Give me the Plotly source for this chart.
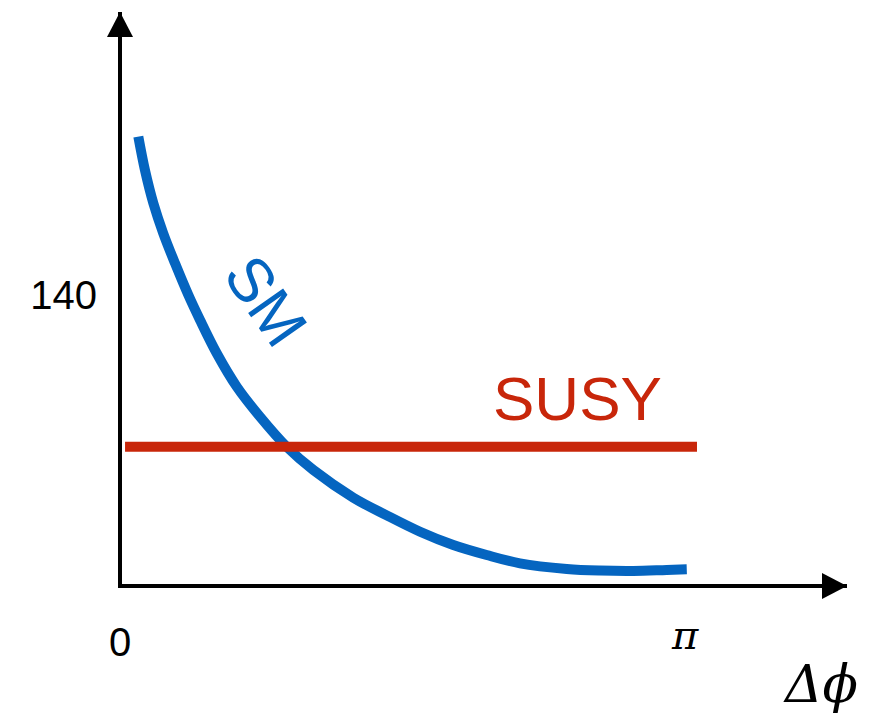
import math
import plotly.graph_objects as go

# ---- data ----
sm_x = [0.091, 0.128, 0.175, 0.230, 0.296, 0.370, 0.435, 0.528, 0.640, 0.769,
        0.918, 1.067, 1.290, 1.476, 1.662, 1.847, 2.033, 2.219, 2.480, 2.665,
        2.851, 3.037, 3.149]
sm_y = [216.2, 200.1, 184.1, 169.7, 155.2, 140.0, 128.0, 112.0, 95.9, 81.5,
        67.0, 55.8, 42.5, 34.0, 26.1, 19.7, 14.9, 10.9, 8.2, 7.4,
        7.2, 7.7, 8.0]
susy_x = [0.017, 3.206]
susy_y = [67.0, 67.0]

x_tickvals = [0, math.pi]
x_ticktext = ["0", "<i>π</i>"]
y_tickvals = [140]
y_ticktext = ["140"]

BLUE = "#0565C0"
RED = "#C8260A"

fig = go.Figure()
fig.add_trace(go.Scatter(x=sm_x, y=sm_y, mode="lines",
                         line=dict(color=BLUE, width=10, shape="spline", smoothing=1.0),
                         showlegend=False, hoverinfo="skip"))
fig.add_trace(go.Scatter(x=susy_x, y=susy_y, mode="lines", line=dict(color=RED, width=10),
                         showlegend=False, hoverinfo="skip"))

# x tick labels (different fonts per label, so drawn as annotations on the x scale)
tick_styles = [
    dict(font=dict(size=40, family="Liberation Sans", color="black"), yshift=-58, xshift=-2),
    dict(font=dict(size=40, family="DejaVu Serif", color="black"), yshift=-51, xshift=0),
]
tick_annotations = [
    dict(x=v, xref="x", y=0, yref="paper", text=t, showarrow=False,
         xanchor="center", yanchor="middle", **s)
    for v, t, s in zip(x_tickvals, x_ticktext, tick_styles)
]

fig.update_layout(
    width=883, height=708,
    margin=dict(l=114, r=44, t=4, b=132),
    paper_bgcolor="white", plot_bgcolor="white",
    font=dict(family="Liberation Sans, Arial, sans-serif", color="black"),
    xaxis=dict(range=[0, 4.0424], showline=True, linecolor="black", linewidth=4,
               showgrid=False, zeroline=False, ticks="", showticklabels=False),
    yaxis=dict(range=[0.96, 276.2], showline=True, linecolor="black", linewidth=4,
               showgrid=False, zeroline=False, ticks="", tickvals=y_tickvals, ticktext=y_ticktext,
               tickfont=dict(size=40, family="Liberation Sans"), ticklabelstandoff=13),
    shapes=[
        dict(type="path", xref="paper", yref="paper", xsizemode="pixel", ysizemode="pixel",
             xanchor=0, yanchor=1, path="M-15,-25 L11,-25 L-2,0 Z",
             fillcolor="black", line=dict(width=0), layer="above"),
        dict(type="path", xref="paper", yref="paper", xsizemode="pixel", ysizemode="pixel",
             xanchor=1, yanchor=0, path="M-25,-15 L-25,11 L0,-2 Z",
             fillcolor="black", line=dict(width=0), layer="above"),
    ],
    annotations=tick_annotations + [
        dict(x=2.5425, y=90.4, xref="x", yref="y", text="SUSY", showarrow=False,
             xanchor="center", yanchor="middle",
             font=dict(size=62, color=RED, family="Liberation Sans")),
        dict(x=0.803, y=137.6, xref="x", yref="y", text="SM", showarrow=False, textangle=55,
             xanchor="center", yanchor="middle",
             font=dict(size=62, color=BLUE, family="Liberation Sans")),
        dict(x=0.964, y=-0.175, xref="paper", yref="paper", text="<i>Δϕ</i>", showarrow=False,
             xanchor="center", yanchor="middle", borderpad=0,
             font=dict(size=52, color="black", family="DejaVu Serif")),
    ],
)

fig.write_html("out.html")
